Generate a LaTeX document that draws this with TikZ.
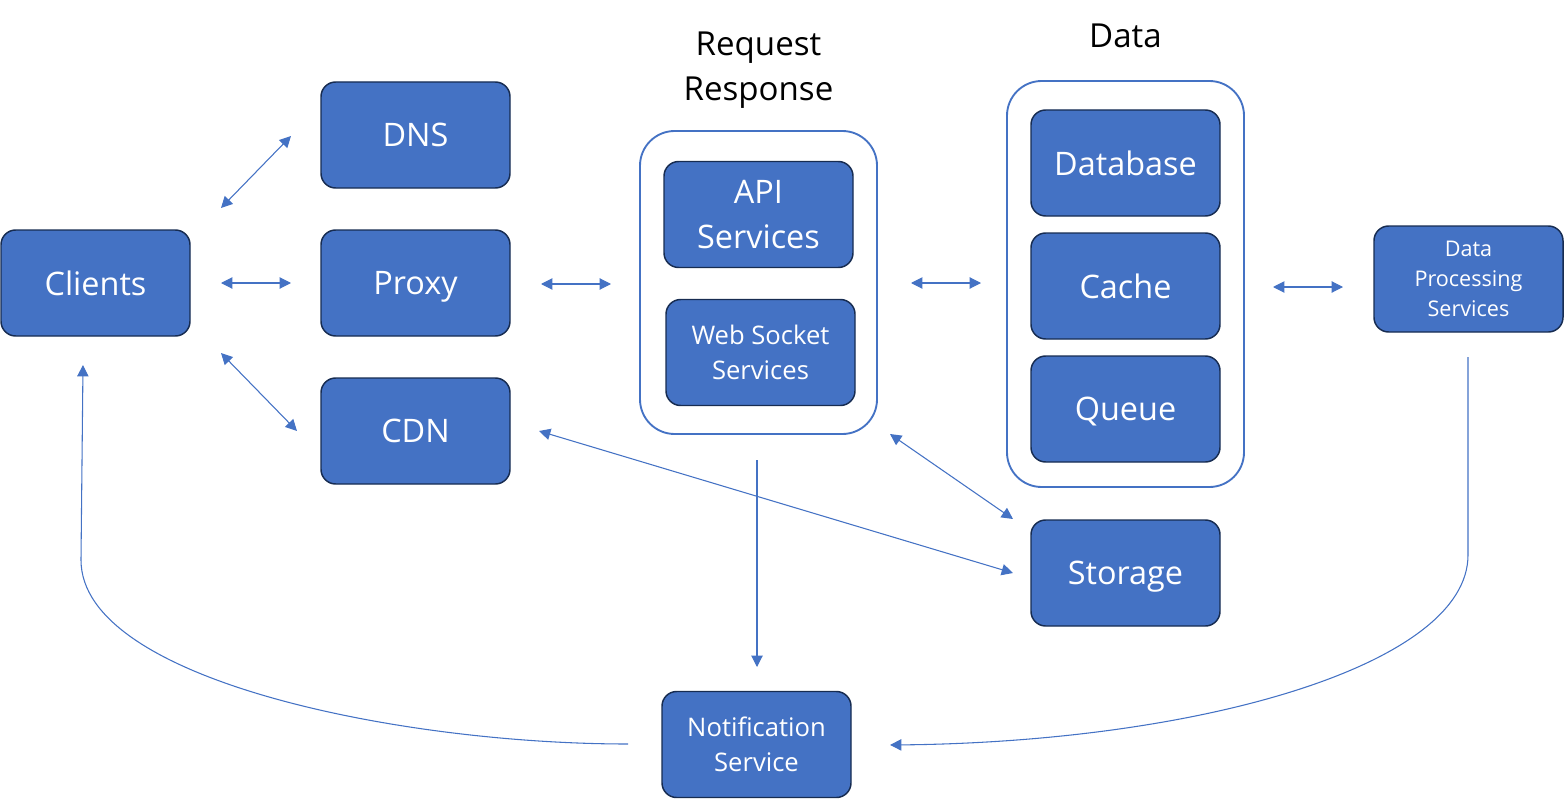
\documentclass[tikz,border=0pt]{standalone}
\usepackage{fontspec}
\setmainfont{Open Sans}
\usetikzlibrary{arrows.meta}
\definecolor{boxfill}{HTML}{4472C4}
\definecolor{boxline}{HTML}{172C51}
\definecolor{arrowc}{HTML}{4472C4}
\tikzset{
  box/.style={rectangle, rounded corners=11pt, fill=boxfill, draw=boxline, line width=1.1pt,
    minimum width=141.75pt, minimum height=79.5pt, inner sep=0pt, text=white, align=center,
    font=\fontsize{24.3}{33.75}\selectfont},
  single/.style={box, text depth=0pt},
  smallbox/.style={box, font=\fontsize{19.2}{26.25}\selectfont},
  tinybox/.style={box, font=\fontsize{16.2}{22.5}\selectfont},
  group/.style={rectangle, rounded corners=26pt, draw=arrowc, line width=1.4pt, fill=none, inner sep=0pt},
  title/.style={text=black, align=center, font=\fontsize{24.8}{33.75}\selectfont, inner sep=0pt},
  conn/.style={draw=arrowc, line width=0.8pt},
  both/.style={conn, {Triangle[length=8.5pt,width=8.5pt]}-{Triangle[length=8.5pt,width=8.5pt]}},
  one/.style={conn, -{Triangle[length=8.5pt,width=8.5pt]}}
}
\begin{document}
\begin{tikzpicture}[x=0.75pt,y=-0.75pt]
\useasboundingbox (0,0) rectangle (1564,799);
% groups
\node[group, minimum width=177.75pt, minimum height=227.25pt] (rrgroup) at (758.5,282.5) {};
\node[group, minimum width=177.75pt, minimum height=304.5pt] (datagroup) at (1125.5,284) {};
\node[title] (rrtitle) at (758.5,70) {Request\\Response};
\node[title, text depth=0pt] (datatitle) at (1125.5,36) {Data};
% boxes
\node[single] (clients) at (95.5,283) {Clients};
\node[single] (dns) at (415.5,135) {DNS};
\node[single] (proxy) at (415.5,283) {Proxy};
\node[single] (cdn) at (415.5,431) {CDN};
\node[box] (api) at (758.5,214.5) {API\\Services};
\node[smallbox] (ws) at (760.5,352.5) {Web Socket\\Services};
\node[single] (db) at (1125.5,163) {Database};
\node[single] (cache) at (1125.5,286) {Cache};
\node[single] (queue) at (1125.5,409) {Queue};
\node[tinybox] (dps) at (1468.5,279) {Data\\Processing\\Services};
\node[single] (storage) at (1125.5,573) {Storage};
\node[smallbox] (notif) at (756.5,744.5) {Notification\\Service};
% connector end points
\coordinate (cDnsA) at (221,208);
\coordinate (cDnsB) at (291,136);
\coordinate (cPxA) at (221,283);
\coordinate (cPxB) at (291,283);
\coordinate (cCdnA) at (221,353);
\coordinate (cCdnB) at (297,431);
\coordinate (pRrA) at (541,284);
\coordinate (pRrB) at (611,284);
\coordinate (rDaA) at (911,283);
\coordinate (rDaB) at (981,283);
\coordinate (dDpA) at (1273,287);
\coordinate (dDpB) at (1343,287);
\coordinate (cStA) at (539,431);
\coordinate (cStB) at (1013,573);
\coordinate (rStA) at (890,434);
\coordinate (rStB) at (1013,519);
\coordinate (rNoA) at (757,460);
\coordinate (rNoB) at (757,667);
\coordinate (nClA) at (628,744);
\coordinate (nClM) at (81,560);
\coordinate (nClB) at (83,365);
\coordinate (dNoA) at (1468,357);
\coordinate (dNoM) at (1468,555);
\coordinate (dNoB) at (890,745);
% connectors
\draw[both] (cDnsA) -- (cDnsB);
\draw[both] (cPxA) -- (cPxB);
\draw[both] (cCdnA) -- (cCdnB);
\draw[both] (pRrA) -- (pRrB);
\draw[both] (rDaA) -- (rDaB);
\draw[both] (dDpA) -- (dDpB);
\draw[both] (cStA) -- (cStB);
\draw[both] (rStA) -- (rStB);
\draw[one] (rNoA) -- (rNoB);
\draw[one] (nClA) .. controls (400,744) and (81,680) .. (nClM) -- (nClB);
\draw[one] (dNoA) -- (dNoM) .. controls (1468,665) and (1200,742) .. (dNoB);
\end{tikzpicture}
\end{document}
